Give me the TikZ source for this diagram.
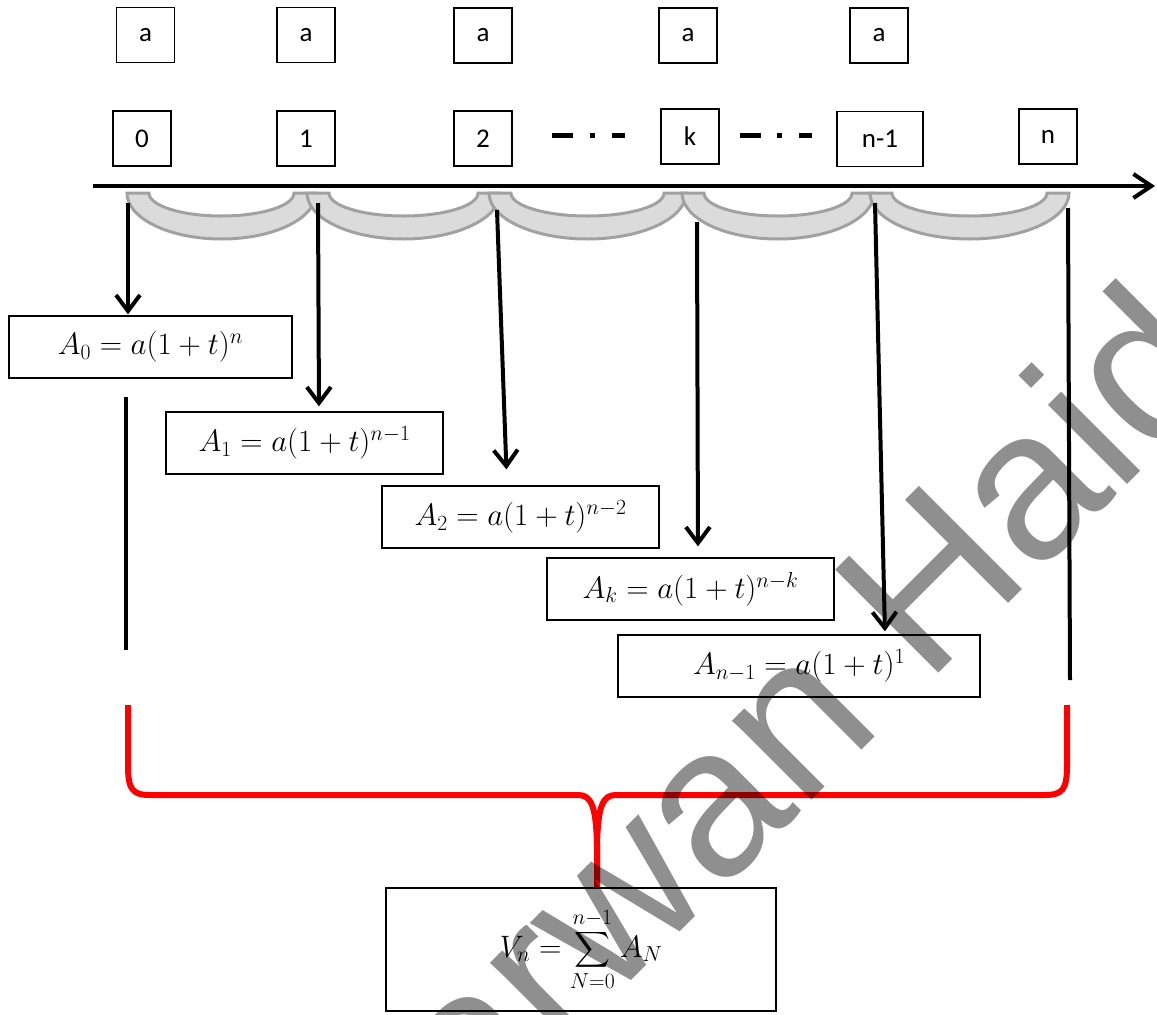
\RequirePackage{fix-cm}
\documentclass[tikz,border=0pt]{standalone}
\usepackage{amsmath}
\usepackage{fontspec}
\newfontfamily\lblfont{Carlito}
\newfontfamily\wmfont{Liberation Sans}
\usetikzlibrary{arrows.meta}
\tikzset{
  lbl/.style={draw=black, line width=1.3pt, minimum width=58pt, minimum height=55pt, inner sep=0pt, font=\lblfont\fontsize{27}{32}\selectfont},
  fbox/.style={draw=black, line width=1.3pt, minimum height=62pt, inner sep=0pt, font=\fontsize{31}{37}\selectfont},
  darrow/.style={line width=4pt, -{Straight Barb[length=16pt,width=24pt]}},
  vline/.style={line width=4pt},
  band/.style={fill=black!14, draw=black!37, line width=3pt},
  brace/.style={draw=red, line width=6pt, line join=round},
  dd/.style={line width=5pt},
}
\begin{document}
\begin{tikzpicture}[x=1pt,y=-1pt]
\useasboundingbox (0,0) rectangle (1157,1015);
\clip (0,0) rectangle (1157,1015);
% top "a" boxes
\node[lbl] (a0) at (145.5,35) {a};
\node[lbl] (a1) at (306,35) {a};
\node[lbl] (a2) at (483,35.5) {a};
\node[lbl] (ak) at (688,35.5) {a};
\node[lbl] (am) at (879,35.5) {a};
% number boxes
\node[lbl] (n0) at (142,138.5) {0};
\node[lbl] (n1) at (306,138.5) {1};
\node[lbl] (n2) at (483,138.5) {2};
\node[lbl] (nk) at (690,136.5) {k};
\node[lbl, minimum width=86pt] (nm) at (880,139) {n-1};
\node[lbl] (nn) at (1048,136.5) {n};
% dash-dot separators
\draw[dd] (552,135) -- (573,135);
\draw[dd] (590,135) -- (595,135);
\draw[dd] (612,135) -- (625,135);
\draw[dd] (740,135) -- (761,135);
\draw[dd] (777,135) -- (782,135);
\draw[dd] (799,135) -- (812,135);
% bands
\foreach \L/\R in {127/316,307/500,489/686,682/874,870/1069}{
  \pgfmathsetmacro\C{(\L+\R)/2}
  \pgfmathsetmacro\A{(\R-\L)/2}
  \pgfmathsetmacro\Ol{\C-0.5523*\A}
  \pgfmathsetmacro\Or{\C+0.5523*\A}
  \pgfmathsetmacro\Il{\C-0.5523*(\A-22)}
  \pgfmathsetmacro\Ir{\C+0.5523*(\A-22)}
  \pgfmathsetmacro\Li{\L+22}
  \pgfmathsetmacro\Ri{\R-22}
  \draw[band] (\L,193) .. controls (\L,218.4) and (\Ol,239) .. (\C,239)
     .. controls (\Or,239) and (\R,218.4) .. (\R,193) -- (\Ri,193)
     .. controls (\Ri,205.7) and (\Ir,216) .. (\C,216)
     .. controls (\Il,216) and (\Li,205.7) .. (\Li,193) -- cycle;
}
% axis
\coordinate (ax0) at (93,186);
\coordinate (ax1) at (1155,186);
\draw[line width=4pt, -{Straight Barb[length=18pt,width=24pt]}] (ax0) -- (ax1);
% formula boxes
\node[fbox, minimum width=283pt] (A0) at (150.5,347) {$A_0=a(1+t)^n$};
\node[fbox, minimum width=277pt] (A1) at (304.5,443) {$A_1=a(1+t)^{n-1}$};
\node[fbox, minimum width=277pt] (A2) at (520.5,517) {$A_2=a(1+t)^{n-2}$};
\node[fbox, minimum width=287pt] (Ak) at (690.5,589) {$A_k=a(1+t)^{n-k}$};
\node[fbox, minimum width=362pt] (Am) at (799,666) {$A_{n-1}=a(1+t)^1$};
\node[fbox, minimum width=390pt, minimum height=123pt] (Vn) at (581,949.5) {$\displaystyle V_n=\sum_{N=0}^{n-1}A_N$};
% arrows
\coordinate (t0) at (128,203);
\coordinate (t1) at (318,203);
\coordinate (t2) at (497,210);
\coordinate (tk) at (697,222);
\coordinate (tm) at (875,203);
\coordinate (tn) at (1068,208);
\coordinate (tnb) at (1070,680);
\coordinate (b0) at (126,397);
\coordinate (b1) at (126,650);
\draw[darrow, shorten >=1pt] (t0) -- (t0 |- A0.north);
\draw[darrow, shorten >=5pt] (t1) -- ([xshift=14.5pt]A1.north);
\draw[darrow, shorten >=16pt] (t2) -- ([xshift=-13.5pt]A2.north);
\draw[darrow, shorten >=11pt] (tk) -- ([xshift=7.5pt]Ak.north);
\draw[darrow, shorten >=3pt] (tm) -- ([xshift=86pt]Am.north);
\draw[vline] (b0) -- (b1);
\draw[vline] (tn) -- (tnb);
% red brace
\coordinate (bl) at (128,705);
\coordinate (br) at (1067,705);
\coordinate (bp) at ([xshift=16pt]Vn.north);
\draw[brace] (bl) -- (128,765) .. controls (128,789) and (132,795) .. (150,795)
  -- (578,795) .. controls (591,795) and (596,805) .. (597,845) -- (bp);
\draw[brace] (bp) -- (597,845) .. controls (598,805) and (603,795) .. (616,795)
  -- (1045,795) .. controls (1063,795) and (1067,789) .. (1067,765) -- (br);
% watermark
\node[rotate=45, anchor=base west, inner sep=0pt, text=black, text opacity=0.44,
  font=\wmfont\fontsize{212}{212}\selectfont] (wm) at (351.5,1260.5) {Marwan Haid};
\end{tikzpicture}
\end{document}
